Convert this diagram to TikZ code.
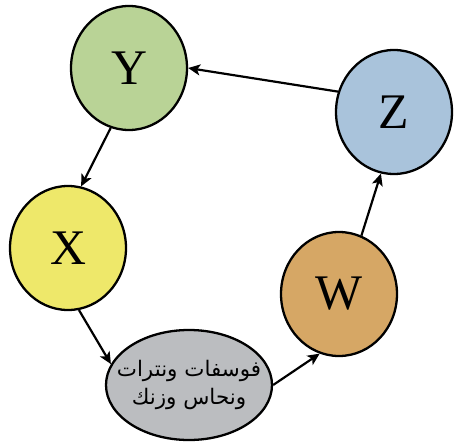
\documentclass[tikz,border=0pt]{standalone}
\usepackage{fontspec}
\setmainfont{Liberation Serif}
\newfontfamily\arabicfont[Script=Arabic]{DejaVu Sans}
\TeXXeTstate=1
\usepackage{xcolor}
\usetikzlibrary{shapes.geometric,arrows.meta}
\definecolor{ygreen}{HTML}{B9D396}
\definecolor{xyellow}{HTML}{EEE86A}
\definecolor{zblue}{HTML}{A9C3DB}
\definecolor{wtan}{HTML}{D6A765}
\definecolor{sgrey}{HTML}{BBBDC0}
\tikzset{
  cyc/.style={ellipse, draw=black, line width=2.3pt, inner sep=0pt,
    minimum width=116bp, minimum height=124bp, font=\fontsize{50}{56}\selectfont},
  salt/.style={ellipse, draw=black, line width=2.3pt, fill=sgrey, inner xsep=-14bp, inner ysep=0pt,
    minimum width=166bp, minimum height=110bp, align=center,
    font=\arabicfont\fontsize{21.5}{29}\selectfont},
  flow/.style={-{Stealth[length=12bp,width=11bp,inset=3bp]}, line width=2.2pt}
}
\begin{document}
\begin{tikzpicture}[x=1bp, y=-1bp]
  \useasboundingbox (0,0) rectangle (454,443);

  % the four circles of the cycle
  \node[cyc, fill=ygreen] (Y) at (129,68) {Y};
  \node[cyc, fill=zblue] (Z) at (394,112) {Z};
  \node[cyc, fill=xyellow] (X) at (68,248) {X};
  \node[cyc, fill=wtan] (W) at (339,294) {W};

  % the grey salts
  \node[salt] (S) at (189,385) {\beginR فوسفات ونترات\endR\\\beginR ونحاس وزنك\endR};

  % arrows round the cycle
  \draw[flow] (Y.253) -- (X.78);
  \draw[flow] (X.-80) -- (S.165);
  \draw[flow] (S.east) -- (W.252);
  \draw[flow] (W.69) -- (Z.258);
  \draw[flow] (Z.160) -- (Y.east);
\end{tikzpicture}
\end{document}
